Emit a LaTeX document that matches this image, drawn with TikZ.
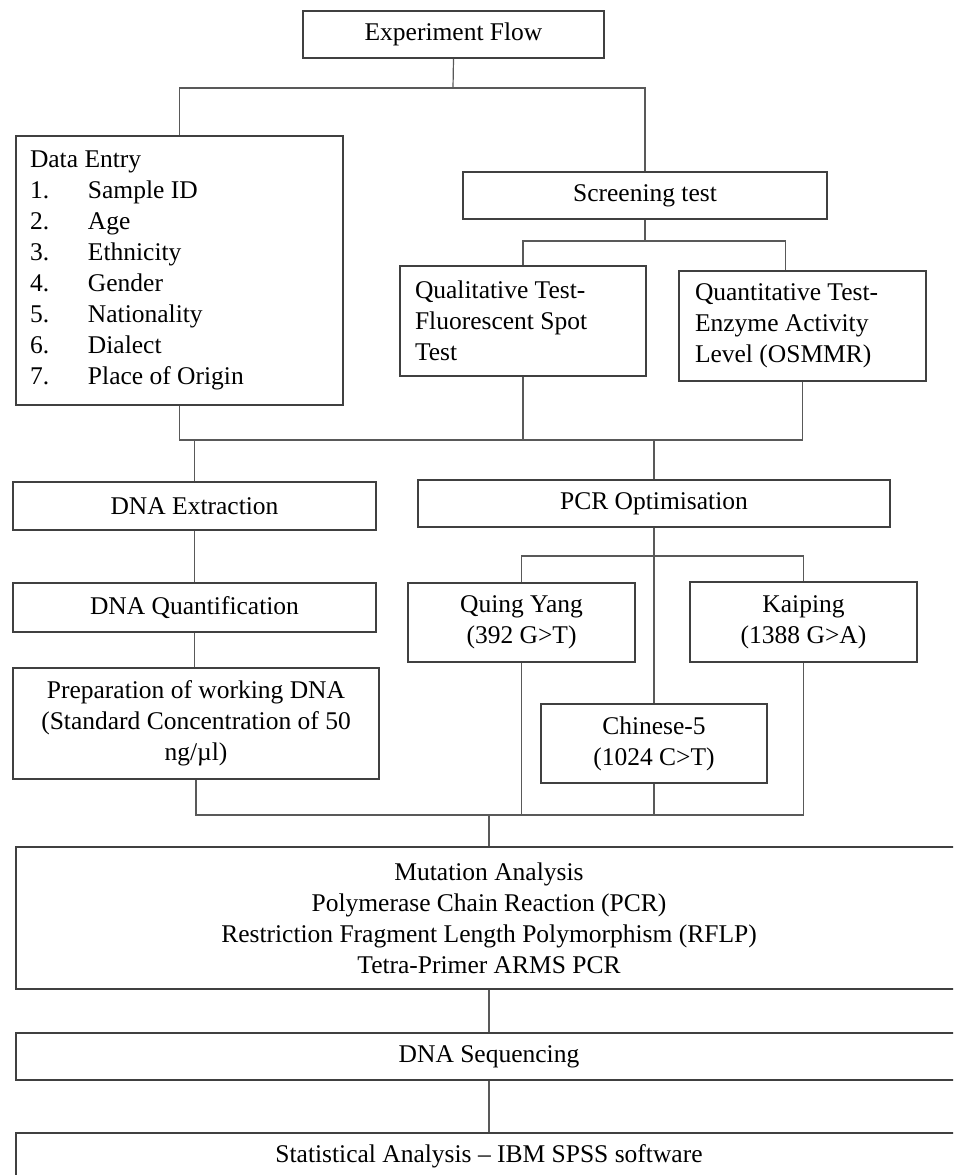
\documentclass[tikz,border=0pt]{standalone}
\usepackage{fontspec}
\setmainfont{Liberation Serif}

\tikzset{
  box/.style={draw=black!75, line width=1.6pt, fill=white, align=center,
    font=\fontsize{25.5}{31}\selectfont, inner sep=0pt},
  link/.style={draw=black!65, line width=1.2pt}
}

\begin{document}
\begin{tikzpicture}[x=1pt,y=-1pt]
    \useasboundingbox (0,0) rectangle (953,1175);
    \clip (0,0) rectangle (953,1175);

    % Top of the flow
    \node[box, minimum width=301, minimum height=47] (flow) at (453.5,34.5) {Experiment Flow};

    % Data entry list
    \node[box, minimum width=327, minimum height=269, text width=299, align=flush left] (entry) at (179.5,270.5)
      {Data Entry\\
       \makebox[58pt][l]{1.}Sample ID\\
       \makebox[58pt][l]{2.}Age\\
       \makebox[58pt][l]{3.}Ethnicity\\
       \makebox[58pt][l]{4.}Gender\\
       \makebox[58pt][l]{5.}Nationality\\
       \makebox[58pt][l]{6.}Dialect\\
       \makebox[58pt][l]{7.}Place of Origin};

    % Screening branch
    \node[box, minimum width=364, minimum height=47] (screen) at (645,195.5) {Screening test};
    \node[box, minimum width=246, minimum height=110, text width=216, align=flush left] (qual) at (523,321)
      {Qualitative Test-\\Fluorescent Spot\\Test};
    \node[box, minimum width=247, minimum height=110, text width=215, align=flush left] (quant) at (802.5,326)
      {Quantitative Test-\\Enzyme Activity\\Level (OSMMR)};

    % DNA column
    \node[box, minimum width=363, minimum height=48] (dnaext) at (194.5,506) {DNA Extraction};
    \node[box, minimum width=363, minimum height=49] (dnaquant) at (194.5,607.5) {DNA Quantification};
    \node[box, minimum width=366, minimum height=111] (prep) at (196,723.5)
      {Preparation of working DNA\\(Standard Concentration of 50\\ng/µl)};

    % PCR column
    \node[box, minimum width=472, minimum height=47] (pcropt) at (654,503.5) {PCR Optimisation};
    \node[box, minimum width=227, minimum height=79] (quing) at (521.5,622.5) {Quing Yang\\(392 G>T)};
    \node[box, minimum width=227, minimum height=80] (kaiping) at (803.5,622) {Kaiping\\(1388 G>A)};
    \node[box, minimum width=226, minimum height=79] (chinese) at (654,743.5) {Chinese-5\\(1024 C>T)};

    % Analysis steps
    \node[box, minimum width=946, minimum height=142] (mut) at (489,918)
      {Mutation Analysis\\Polymerase Chain Reaction (PCR)\\Restriction Fragment Length Polymorphism (RFLP)\\Tetra-Primer ARMS PCR};
    \node[box, minimum width=946, minimum height=47] (seq) at (489,1056.5) {DNA Sequencing};
    \node[box, minimum width=946, minimum height=47] (stat) at (489,1156.5) {Statistical Analysis -- IBM SPSS software};

    % Junction levels
    \coordinate (s1) at (453,88);
    \coordinate (s2) at (645,241);
    \coordinate (m1) at (0,440);
    \coordinate (m2) at (0,556);
    \coordinate (m3) at (0,815);

    % Connectors
    \draw[link] (flow.south) -- (s1);
    \draw[link] (entry.north) |- (s1);
    \draw[link] (screen.north) |- (s1);
    \draw[link] (screen.south) -- (s2);
    \draw[link] (qual.north) |- (s2);
    \draw[link] ([xshift=-17pt]quant.north) |- (s2);

    \draw[link] (entry.south) |- (m1 -| quant.south) -- (quant.south);
    \draw[link] (qual.south) -- (qual.south |- m1);
    \draw[link] (dnaext.north) -- (dnaext.north |- m1);
    \draw[link] (pcropt.north) -- (pcropt.north |- m1);

    \draw[link] (dnaext.south) -- (dnaquant.north);
    \draw[link] (dnaquant.south) -- (dnaquant.south |- prep.north);
    \draw[link] (pcropt.south) -- (chinese.north);
    \draw[link] (quing.north) |- (m2 -| kaiping.north) -- (kaiping.north);

    \draw[link] (prep.south) |- (m3 -| kaiping.south) -- (kaiping.south);
    \draw[link] (quing.south) -- (quing.south |- m3);
    \draw[link] (chinese.south) -- (chinese.south |- m3);
    \draw[link] (mut.north) -- (mut.north |- m3);

    \draw[link] (mut.south) -- (seq.north);
    \draw[link] (seq.south) -- (stat.north);
\end{tikzpicture}
\end{document}
